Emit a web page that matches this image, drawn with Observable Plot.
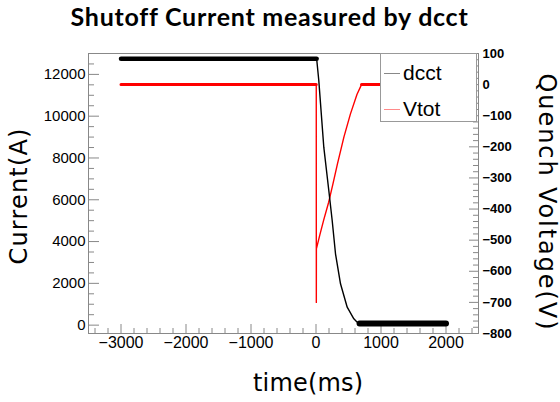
<!DOCTYPE html>
<html>
<head>
<meta charset="utf-8">
<script src="https://cdn.jsdelivr.net/npm/d3@7"></script>
<script src="https://cdn.jsdelivr.net/npm/@observablehq/plot@0.6"></script>
<style>
  html, body { margin: 0; padding: 0; background: #fff; }
  body { width: 560px; height: 402px; overflow: hidden; position: relative; }
  #title { position: absolute; left: 0; top: 0; width: 560px; height: 40px; text-align: center;
           font: 700 25px Lato, sans-serif; line-height: 32px; color: #000; white-space: nowrap; }
  #title span { position: absolute; top: 0; }
  #chart { position: absolute; left: 0; top: 40px; }
  #legend { position: absolute; left: 380px; top: 53px; width: 97px; height: 69px; box-sizing: border-box;
            border: 1px solid #999; background: #fff; font: 21px "Liberation Sans", Arial, sans-serif; color: #000; }
  #legend .row { position: absolute; left: 0; height: 24px; }
  #legend .sw { position: absolute; left: 3px; width: 16px; height: 0; }
  #legend .lb { position: absolute; left: 22px; line-height: 24px; top: -12px; }
</style>
</head>
<body>
<div id="title"><span>Shutoff Current measured by dcct</span></div>
<div id="chart"></div>
<div id="legend">
  <div class="row" style="top:19px"><div class="sw" style="border-top:1.5px solid #888"></div><div class="lb">dcct</div></div>
  <div class="row" style="top:55px"><div class="sw" style="border-top:1.5px solid #ff8a8a"></div><div class="lb">Vtot</div></div>
</div>
<script>
// ---- data ----
const dcctTime    = [-3000, 10, 43, 120, 197, 249, 300, 377, 480, 582, 630, 670, 2000];
const dcctCurrent = [12750, 12750, 11708, 8516, 6444, 5008, 3414, 1978, 859, 303, 150, 80, 80];

const vtotTime    = [-3000, 4, 5, 6, 60, 120, 195, 260, 330, 430, 530, 630, 700, 2000];
const vtotVoltage = [0, 0, -700, -528, -482, -434, -378, -320, -255, -168, -94, -32, 0, 0];

const xTicks     = [-3000, -2000, -1000, 0, 1000, 2000];
const leftTicks  = [0, 2000, 4000, 6000, 8000, 10000, 12000];
const rightTicks = [-800, -700, -600, -500, -400, -300, -200, -100, 0, 100];

const seriesNames = ["dcct", "Vtot"];
const titleText = "Shutoff Current measured by dcct";
const xLabel = "time(ms)";
const yLeftLabel = "Current(A)";
const yRightLabel = "Quench Voltage(V)";

// ---- scales ----
const X_DOMAIN = [-3500, 2500];
const I_DOMAIN = [-400, 13000];
const V_DOMAIN = [-800, 100];
const vToI = v => I_DOMAIN[0] + (v - V_DOMAIN[0]) / (V_DOMAIN[1] - V_DOMAIN[0]) * (I_DOMAIN[1] - I_DOMAIN[0]);
const iToV = i => V_DOMAIN[0] + (i - I_DOMAIN[0]) / (I_DOMAIN[1] - I_DOMAIN[0]) * (V_DOMAIN[1] - V_DOMAIN[0]);

const dcct = dcctTime.map((t, k) => ({t, I: dcctCurrent[k]}));
const vtot = vtotTime.map((t, k) => ({t, V: vtotVoltage[k]}));

const W = 560, H = 362, mL = 88, mR = 82, mT = 13, mB = 69;
const fw = W - mL - mR, fh = H - mT - mB;

const xMinor = d3.range(-3400, 2500, 200).filter(v => v % 1000 !== 0);
const leftMinor = d3.range(0, 13000, 500).filter(v => v % 2000 !== 0);
const rightMinor = d3.range(-800, 101, 20).filter(v => v % 100 !== 0);

const fmt = v => { v = Math.round(v); return v < 0 ? "\u2212" + (-v) : String(v); };
const axisColor = "#888";
const titleFont = "'DejaVu Sans', sans-serif";

const chart = Plot.plot({
  width: W, height: H,
  marginLeft: mL, marginRight: mR, marginTop: mT, marginBottom: mB,
  style: {fontFamily: "'Liberation Sans', Arial, sans-serif", fontSize: "15px", background: "#fff", color: "#000"},
  x: {domain: X_DOMAIN},
  y: {domain: I_DOMAIN},
  marks: [
    // ticks (inside the frame)
    Plot.ruleY(leftTicks, {y: d => d, stroke: axisColor, insetRight: fw - 11}),
    Plot.ruleY(leftMinor, {y: d => d, stroke: axisColor, insetRight: fw - 6}),
    Plot.ruleY(rightTicks, {y: d => vToI(d), stroke: axisColor, insetLeft: fw - 9}),
    Plot.ruleY(rightMinor, {y: d => vToI(d), stroke: axisColor, insetLeft: fw - 5}),
    Plot.ruleX(xTicks, {x: d => d, stroke: axisColor, insetTop: fh - 9}),
    Plot.ruleX(xMinor, {x: d => d, stroke: axisColor, insetTop: fh - 5}),
    // tick labels
    Plot.axisY(leftTicks, {anchor: "left", tickSize: 0, tickPadding: 3, label: null, tickFormat: fmt, fontSize: 15}),
    Plot.axisY(rightTicks.map(vToI), {anchor: "right", tickSize: 0, tickPadding: 4, label: null,
      tickFormat: i => fmt(iToV(i)), fontSize: 13, fontWeight: "bold"}),
    Plot.axisX(xTicks, {anchor: "bottom", tickSize: 0, tickPadding: 3, label: null, tickFormat: fmt, fontSize: 16}),
    // Vtot (right axis, mapped into the left scale)
    Plot.line(vtot, {x: "t", y: d => vToI(d.V), stroke: "#ff0000", strokeWidth: 1.4}),
    Plot.line(vtot, {x: "t", y: d => (d.t <= 4 || d.t >= 700) ? vToI(d.V) : NaN, stroke: "#ff0000", strokeWidth: 3}),
    // dcct
    Plot.line(dcct, {x: "t", y: "I", stroke: "#000", strokeWidth: 1.4}),
    Plot.line(dcct, {x: "t", y: d => d.t <= 10 ? d.I : NaN, stroke: "#000", strokeWidth: 4.5}),
    Plot.line(dcct, {x: "t", y: d => d.t >= 670 ? d.I : NaN, stroke: "#000", strokeWidth: 6}),
    Plot.frame({stroke: axisColor}),
    // axis titles
    Plot.text([yLeftLabel], {frameAnchor: "left", rotate: -90, dx: -62, dy: 3, textAnchor: "middle",
      lineAnchor: "bottom", fontFamily: titleFont, fontSize: 24}),
    Plot.text([yRightLabel], {frameAnchor: "right", rotate: 90, dx: 60, dy: 8, textAnchor: "middle",
      lineAnchor: "bottom", fontFamily: titleFont, fontSize: 24}),
    Plot.text([xLabel], {frameAnchor: "bottom", dx: 24.5, dy: 57, textAnchor: "middle",
      lineAnchor: "bottom", fontFamily: titleFont, fontSize: 24})
  ]
});
document.getElementById("chart").appendChild(chart);

// match axis title lengths of the reference
const lengths = {[yLeftLabel]: 136, [yRightLabel]: 256, [xLabel]: 110};
d3.select(chart).selectAll("text").each(function() {
  const t = this.textContent;
  if (lengths[t]) { this.setAttribute("textLength", lengths[t]); this.setAttribute("lengthAdjust", "spacing"); }
});

// fit title width/position
const span = document.querySelector("#title span");
const w0 = span.getBoundingClientRect().width;
const target = 397;
span.style.letterSpacing = ((target - w0) / titleText.length) + "px";
const w1 = span.getBoundingClientRect().width;
span.style.left = (269.5 - w1 / 2) + "px";
</script>
</body>
</html>
